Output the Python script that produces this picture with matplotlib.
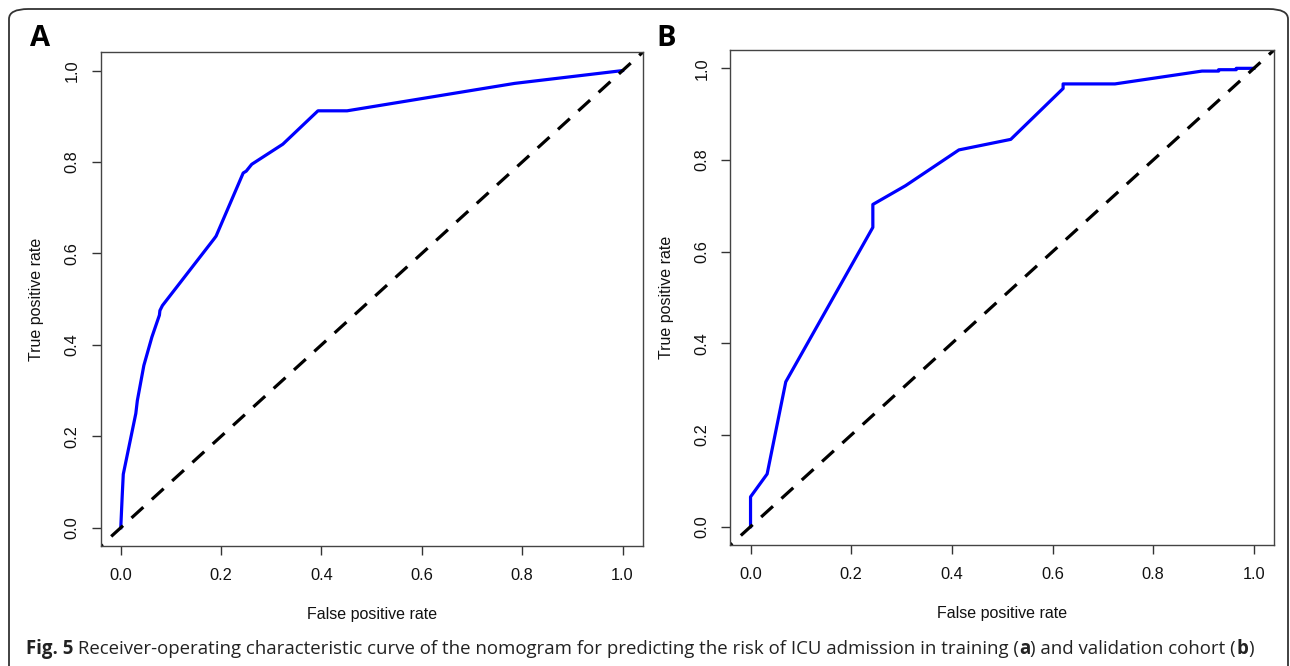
import matplotlib
matplotlib.use("Agg")
import matplotlib.pyplot as plt
from matplotlib.patches import FancyBboxPatch

# panel A - training cohort
fpr_a = [0.0, 0.0, 0.003, 0.005, 0.03, 0.033, 0.046, 0.062, 0.077, 0.078, 0.083,
         0.186, 0.19, 0.244, 0.25, 0.261, 0.323, 0.393, 0.451, 0.785, 1.0]
tpr_a = [0.0, 0.0, 0.073, 0.117, 0.25, 0.278, 0.355, 0.417, 0.465, 0.475, 0.486,
         0.632, 0.638, 0.776, 0.78, 0.795, 0.839, 0.912, 0.912, 0.972, 1.0]

# panel B - validation cohort
fpr_b = [0.0, 0.0, 0.033, 0.070, 0.243, 0.243, 0.308, 0.414, 0.517, 0.621, 0.621,
         0.724, 0.897, 0.93, 0.93, 0.965, 0.965, 1.0]
tpr_b = [0.0, 0.065, 0.115, 0.316, 0.653, 0.703, 0.744, 0.822, 0.845, 0.956, 0.966,
         0.966, 0.994, 0.994, 0.997, 0.997, 1.0, 1.0]

ticks = [0.0, 0.2, 0.4, 0.6, 0.8, 1.0]
tick_labels = ["0.0", "0.2", "0.4", "0.6", "0.8", "1.0"]

W, H = 1290, 666
fig = plt.figure(figsize=(W / 100, H / 100), dpi=100)
plt.rcParams['font.family'] = ['Liberation Sans', 'DejaVu Sans']


def px_box(l, t, r, b):
    return [l / W, 1 - b / H, (r - l) / W, (b - t) / H]


def roc_panel(rect, fpr, tpr):
    ax = fig.add_axes(rect)
    ax.plot(fpr, tpr, color='#0000ff', lw=2.3, solid_joinstyle='round')
    ax.plot([-0.1, 1.1], [-0.1, 1.1], color='black', lw=2.3,
            linestyle=(0, (5, 3.6)))
    ax.set_xlim(-0.04, 1.04)
    ax.set_ylim(-0.04, 1.04)
    ax.set_xticks(ticks)
    ax.set_xticklabels(tick_labels)
    ax.set_yticks(ticks)
    ax.set_yticklabels(tick_labels, rotation=90, va='center')
    ax.tick_params(length=6.5, width=1, color='#333333', labelsize=11.8,
                   labelcolor='#111111')
    ax.tick_params(axis='x', pad=9.5)
    ax.tick_params(axis='y', pad=8.5)
    for s in ax.spines.values():
        s.set_color('#444444')
        s.set_linewidth(1.0)
    ax.set_xlabel("False positive rate", fontsize=11.5, labelpad=17, color='#111111')
    ax.set_ylabel("True positive rate", fontsize=11.5, labelpad=15, color='#111111')
    return ax


ax_a = roc_panel(px_box(100.7, 52.3, 642.6, 546), fpr_a, tpr_a)
ax_b = roc_panel(px_box(730.4, 50, 1274, 545), fpr_b, tpr_b)

# panel letters
fig.text(30 / W, 1 - 39 / H, "A", fontsize=21, fontweight='bold',
         family=['Open Sans'], va='center', ha='left')
fig.text(656 / W, 1 - 39 / H, "B", fontsize=21, fontweight='bold',
         family=['Open Sans'], va='center', ha='left')

# outer rounded frame (bottom/right cropped off)
frame = FancyBboxPatch((9 / W, -0.1), (1288 - 9) / W, 1.1 - 9 / H,
                       boxstyle="round,pad=0,rounding_size=0.015",
                       transform=fig.transFigure, fill=False,
                       edgecolor='#333333', lw=1.3, clip_on=False)
fig.patches.append(frame)

# caption built from pieces (bold and regular)
pieces = [("Fig. 5", 'bold'),
          (" Receiver-operating characteristic curve of the nomogram for predicting the risk of ICU admission in training (", 'normal'),
          ("a", 'bold'),
          (") and validation cohort (", 'normal'),
          ("b", 'bold'),
          (")", 'normal')]
fig.canvas.draw()
renderer = fig.canvas.get_renderer()
x = 26
cap_y = 1 - 649 / H
for txt, wt in pieces:
    t = fig.text(x / W, cap_y, txt, fontsize=13.4, fontweight=wt,
                 family=['Open Sans'], va='center', ha='left', color='#222222')
    bb = t.get_window_extent(renderer=renderer)
    x += bb.width

fig.savefig("out.png", dpi=100)
